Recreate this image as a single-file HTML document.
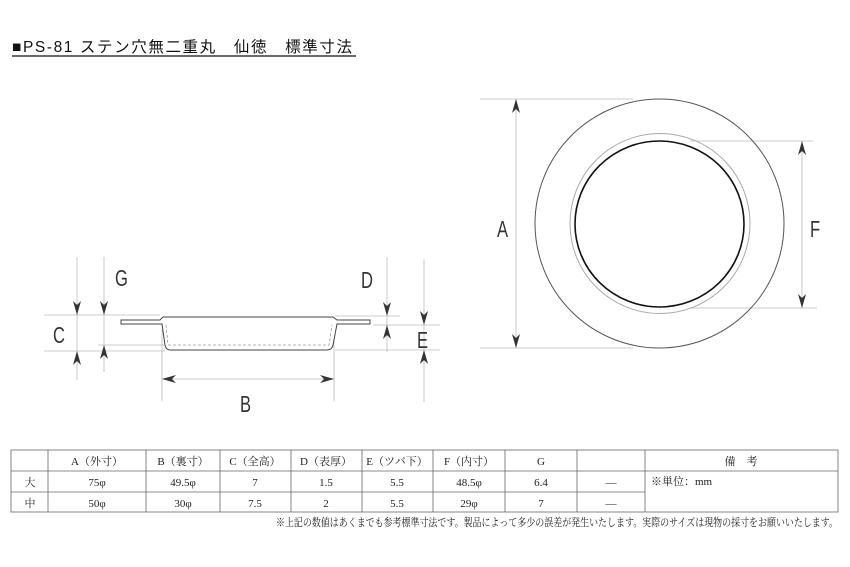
<!DOCTYPE html>
<html><head><meta charset="utf-8"><style>
body{margin:0;background:#fff;width:850px;height:567px;overflow:hidden;font-family:"Liberation Sans","Noto Sans CJK JP",sans-serif}
svg{position:absolute;left:0;top:0}
.t{font-family:"Liberation Serif","Noto Serif CJK SC",serif;font-size:11px;fill:#222}
.L{font-family:"Liberation Sans",sans-serif;font-size:23px;fill:#333}
</style></head><body>
<svg width="850" height="567" viewBox="0 0 850 567">
<defs>
<path id="ad" d="M0 0 L-4 -14 L0 -10 L4 -14 Z" fill="#333"/>
</defs>
<text x="12" y="52" font-size="15.5" fill="#111" font-family="Liberation Sans,Noto Sans CJK JP,sans-serif" textLength="340">■PS-81 ステン穴無二重丸　仙徳　標準寸法</text>
<line x1="12" y1="56" x2="356" y2="56" stroke="#111" stroke-width="1.2"/>

<!-- side view -->
<g stroke="#bbb" stroke-width="0.8" fill="none">
<line x1="77" y1="257" x2="77" y2="380"/><line x1="104" y1="257" x2="104" y2="372"/>
<line x1="44" y1="315" x2="160" y2="315"/><line x1="44" y1="351" x2="165" y2="351"/>
<line x1="98" y1="345" x2="165" y2="345"/>
<line x1="387" y1="257" x2="387" y2="352"/><line x1="424" y1="259" x2="424" y2="402"/>
<line x1="335" y1="316" x2="400" y2="316"/><line x1="373" y1="325" x2="440" y2="325"/>
<line x1="335" y1="350" x2="440" y2="350"/>
<line x1="162" y1="330" x2="162" y2="401"/><line x1="334" y1="330" x2="334" y2="401"/>
<line x1="162" y1="379" x2="334" y2="379"/>
</g>
<g stroke="#444" stroke-width="1" fill="#fff">
<path d="M121 320 L160 320 L163 317 L333 317 L337 320 L370 320 L370 324 L337 324 L333 345 Q332 350 327 350 L170 350 Q166 350 165 345 L162 324 L121 324 Z"/>
</g>
<path d="M166 325 L168 345 L329 345 L332 325" fill="none" stroke="#999" stroke-width="0.8" stroke-dasharray="3,2"/>
<use href="#ad" transform="translate(77,315)"/>
<use href="#ad" transform="translate(77,351) rotate(180)"/>
<use href="#ad" transform="translate(104,315)"/>
<use href="#ad" transform="translate(104,345) rotate(180)"/>
<use href="#ad" transform="translate(387,316)"/>
<use href="#ad" transform="translate(387,325) rotate(180)"/>
<use href="#ad" transform="translate(424,325)"/>
<use href="#ad" transform="translate(424,350) rotate(180)"/>
<use href="#ad" transform="translate(162,379) rotate(90)"/>
<use href="#ad" transform="translate(334,379) rotate(-90)"/>
<g class="L">
<text transform="translate(115,286) scale(0.72,1)">G</text>
<text transform="translate(53,343) scale(0.72,1)">C</text>
<text transform="translate(361,288) scale(0.72,1)">D</text>
<text transform="translate(417,348) scale(0.72,1)">E</text>
<text transform="translate(240,412) scale(0.72,1)">B</text>
<text transform="translate(497,237) scale(0.72,1)">A</text>
<text transform="translate(810,237) scale(0.72,1)">F</text>
</g>

<!-- top view -->
<g stroke="#bbb" stroke-width="0.8" fill="none">
<line x1="480" y1="99" x2="633" y2="99"/><line x1="480" y1="348" x2="633" y2="348"/>
<line x1="516" y1="99" x2="516" y2="348"/>
<line x1="690" y1="141" x2="813" y2="141"/><line x1="690" y1="308" x2="817" y2="308"/>
<line x1="802" y1="141" x2="802" y2="308"/>
</g>
<ellipse cx="659.5" cy="223.5" rx="124.5" ry="124.5" fill="none" stroke="#555" stroke-width="1"/>
<circle cx="660" cy="223.5" r="90" fill="none" stroke="#aaa" stroke-width="1"/>
<ellipse cx="659.5" cy="224" rx="84.5" ry="83" fill="none" stroke="#111" stroke-width="1.6"/>
<use href="#ad" transform="translate(516,99) rotate(180)"/>
<use href="#ad" transform="translate(516,348)"/>
<use href="#ad" transform="translate(802,141) rotate(180)"/>
<use href="#ad" transform="translate(802,308)"/>

<!-- table -->
<g stroke="#666" stroke-width="0.8" fill="none">
<rect x="11" y="450" width="827" height="62"/>
<line x1="11" y1="471" x2="838" y2="471"/>
<line x1="11" y1="492" x2="645" y2="492"/>
<line x1="48" y1="450" x2="48" y2="512"/>
<line x1="146" y1="450" x2="146" y2="512"/>
<line x1="220" y1="450" x2="220" y2="512"/>
<line x1="291" y1="450" x2="291" y2="512"/>
<line x1="362" y1="450" x2="362" y2="512"/>
<line x1="433" y1="450" x2="433" y2="512"/>
<line x1="505" y1="450" x2="505" y2="512"/>
<line x1="577" y1="450" x2="577" y2="512"/>
<line x1="645" y1="450" x2="645" y2="512"/>
</g>
<g class="t" text-anchor="middle">
<text x="97" y="465">A（外寸）</text><text x="183" y="465">B（裏寸）</text><text x="255" y="465">C（全高）</text>
<text x="326" y="465">D（表厚）</text><text x="397" y="465">E（ツバ下）</text><text x="469" y="465">F（内寸）</text>
<text x="541" y="465">G</text><text x="741" y="465">備　考</text>
<text x="30" y="486">大</text><text x="97" y="486">75φ</text><text x="183" y="486">49.5φ</text><text x="255" y="486">7</text>
<text x="326" y="486">1.5</text><text x="397" y="486">5.5</text><text x="469" y="486">48.5φ</text><text x="541" y="486">6.4</text><text x="611" y="486">—</text>
<text x="30" y="507">中</text><text x="97" y="507">50φ</text><text x="183" y="507">30φ</text><text x="255" y="507">7.5</text>
<text x="326" y="507">2</text><text x="397" y="507">5.5</text><text x="469" y="507">29φ</text><text x="541" y="507">7</text><text x="611" y="507">—</text>
</g>
<text class="t" x="651" y="485" font-size="8">※単位：mm</text>
<text class="t" x="838" y="526" font-size="7.5" text-anchor="end" textLength="562" lengthAdjust="spacingAndGlyphs">※上記の数値はあくまでも参考標準寸法です。製品によって多少の誤差が発生いたします。実際のサイズは現物の採寸をお願いいたします。</text>
</svg>
</body></html>
